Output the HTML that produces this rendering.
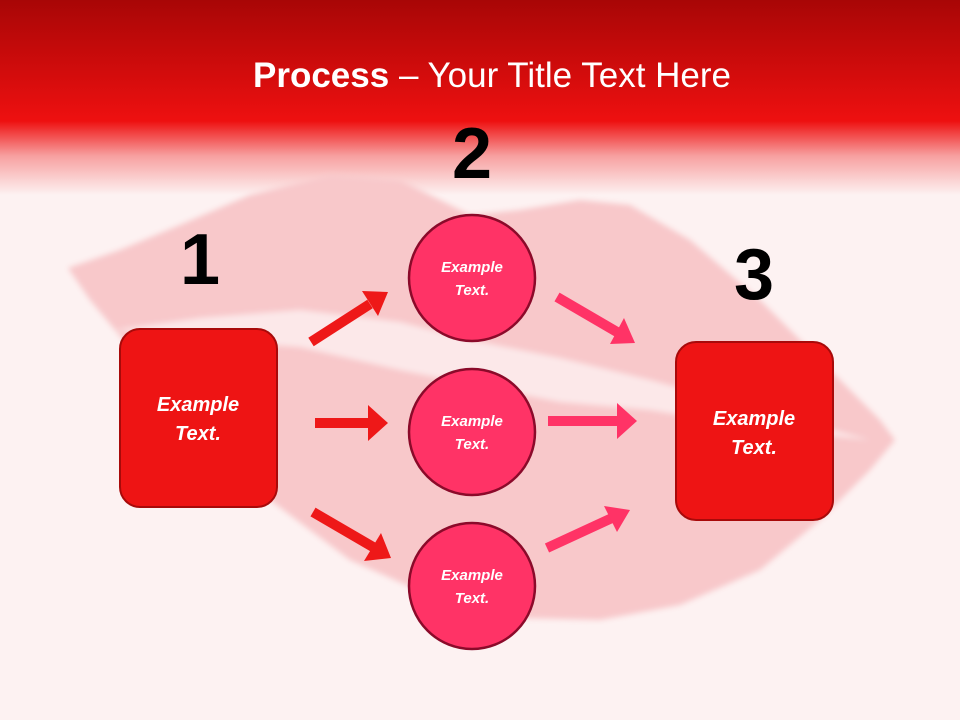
<!DOCTYPE html>
<html><head><meta charset="utf-8"><style>
html,body{margin:0;padding:0;}
body{width:960px;height:720px;overflow:hidden;background:#fdf2f2;}
svg{display:block;}
text{font-family:"Liberation Sans",sans-serif;}
</style></head><body>
<svg width="960" height="720" viewBox="0 0 960 720" xmlns="http://www.w3.org/2000/svg">
<defs>
<linearGradient id="hd" x1="0" y1="0" x2="0" y2="1">
<stop offset="0" stop-color="#a80606"/>
<stop offset="0.62" stop-color="#ee1010"/>
<stop offset="0.66" stop-color="#f03030"/>
<stop offset="0.8" stop-color="#f7a0a0"/>
<stop offset="1" stop-color="#fdf2f2"/>
</linearGradient>
<filter id="bl"><feGaussianBlur stdDeviation="3"/></filter>
</defs>
<rect width="960" height="720" fill="#fdf2f2"/>
<rect width="960" height="195" fill="url(#hd)"/>
<g filter="url(#bl)">
<path d="M68,268 L120,250 L180,225 L250,195 L330,175 L400,180 L440,200 L470,215 L520,210 L580,200 L630,205 L690,240 L760,300 L820,360 L880,420 L895,440 L870,470 L820,520 L760,570 L680,605 L600,620 L520,618 L440,600 L350,560 L270,500 L200,430 L140,360 L90,300 Z" fill="#f8c8ca"/>
<path d="M115,330 L200,318 L300,310 L400,322 L470,340 L560,358 L650,380 L760,410 L870,440 L760,428 L650,410 L560,402 L470,384 L400,370 L300,347 L200,340 Z" fill="#fce8e9"/>
</g>
<text x="492" y="87" font-size="35" fill="#fff" text-anchor="middle"><tspan font-weight="bold">Process</tspan> – Your Title Text Here</text>
<g font-weight="bold" font-size="72" fill="#000" text-anchor="middle">
<text x="200" y="284">1</text>
<text x="472" y="178">2</text>
<text x="754" y="299">3</text>
</g>
<rect x="120" y="329" width="157" height="178" rx="20" fill="#ee1414" stroke="#a80a0a" stroke-width="2"/>
<rect x="676" y="342" width="157" height="178" rx="20" fill="#ee1414" stroke="#a80a0a" stroke-width="2"/>
<g fill="#ff3366" stroke="#8b0a2a" stroke-width="2.5">
<circle cx="472" cy="278" r="63"/>
<circle cx="472" cy="432" r="63"/>
<circle cx="472" cy="586" r="63"/>
</g>
<g stroke-width="10" fill="none">
<line x1="311" y1="342" x2="370" y2="304" stroke="#ee1818"/>
<line x1="315" y1="423" x2="370" y2="423" stroke="#ee1818"/>
<line x1="313" y1="512" x2="373" y2="547" stroke="#ee1818"/>
<line x1="557" y1="297" x2="617" y2="332" stroke="#ff3366"/>
<line x1="548" y1="421" x2="618" y2="421" stroke="#ff3366"/>
<line x1="547" y1="548" x2="612" y2="518" stroke="#ff3366"/>
</g>
<g fill="#ee1818">
<polygon points="388,292 362,291 378,316"/>
<polygon points="388,423 368,405 368,441"/>
<polygon points="391,558 364,561 381,533"/>
</g>
<g fill="#ff3366">
<polygon points="635,343 610,344 624,318"/>
<polygon points="637,421 617,403 617,439"/>
<polygon points="630,510 604,506 617,532"/>
</g>
<g font-weight="bold" font-style="italic" fill="#fff" text-anchor="middle">
<text x="472" y="272" font-size="15">Example</text>
<text x="472" y="295" font-size="15">Text.</text>
<text x="472" y="426" font-size="15">Example</text>
<text x="472" y="449" font-size="15">Text.</text>
<text x="472" y="580" font-size="15">Example</text>
<text x="472" y="603" font-size="15">Text.</text>
<text x="198" y="411" font-size="20">Example</text>
<text x="198" y="440" font-size="20">Text.</text>
<text x="754" y="425" font-size="20">Example</text>
<text x="754" y="454" font-size="20">Text.</text>
</g>
</svg>
</body></html>
